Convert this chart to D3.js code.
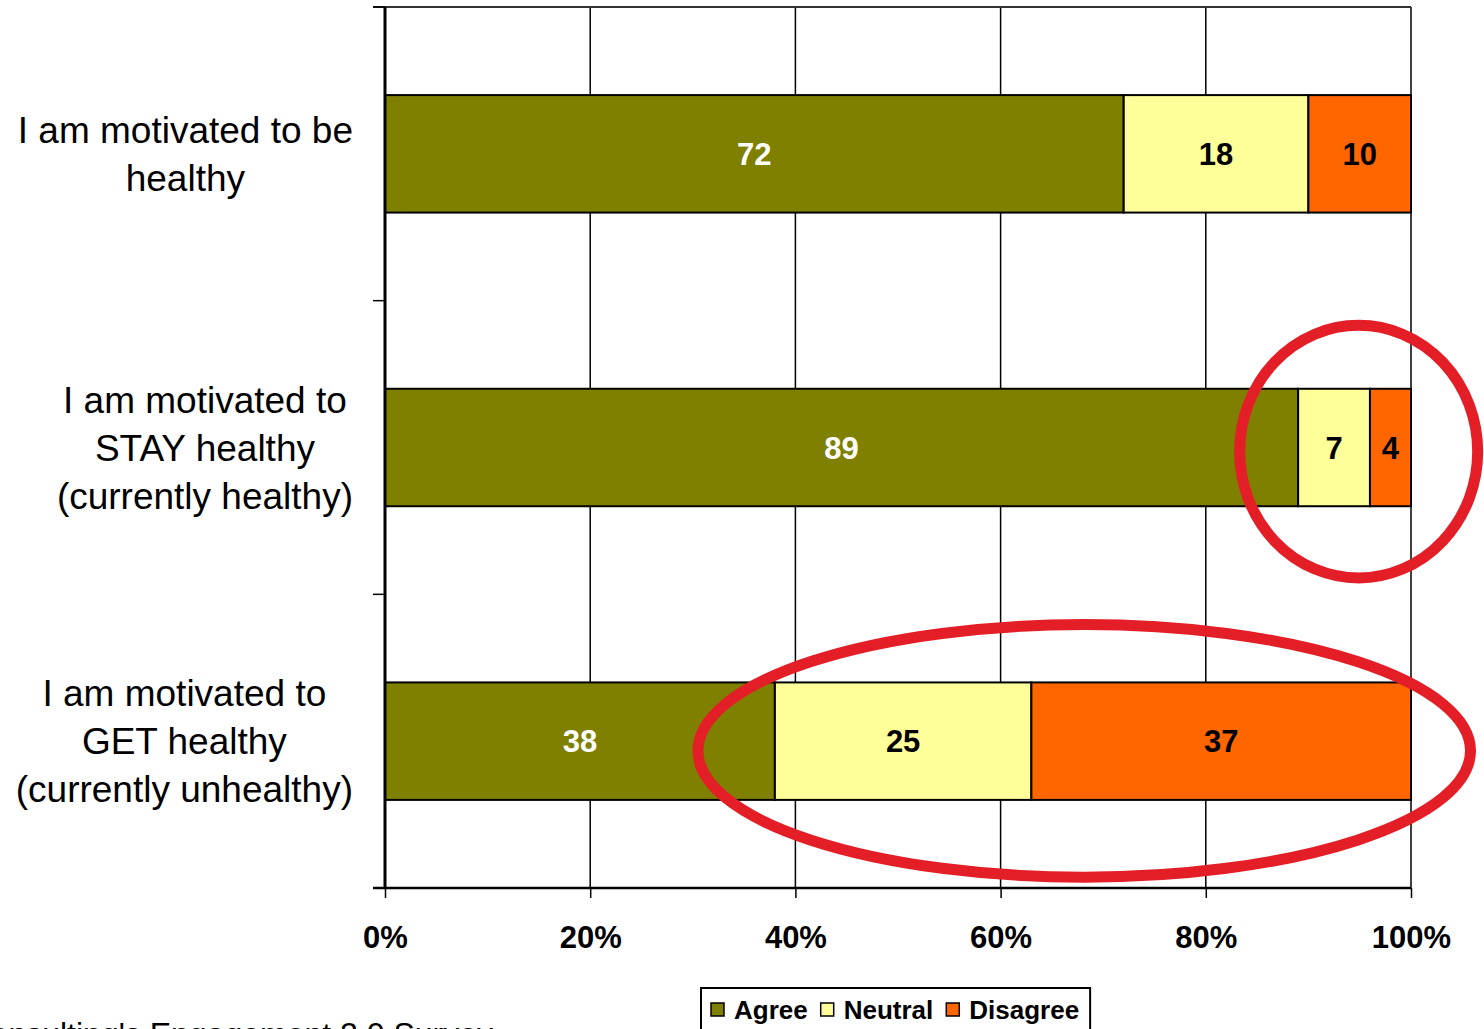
<!DOCTYPE html>
<html><head><meta charset="utf-8">
<script src="https://cdn.jsdelivr.net/npm/d3@7"></script>
<style>body{margin:0;background:#fff;overflow:hidden}svg{display:block}text{font-family:"Liberation Sans",Arial,sans-serif}</style>
</head><body>
<script>
const categories = [
  ["I am motivated to be", "healthy"],
  ["I am motivated to", "STAY healthy", "(currently healthy)"],
  ["I am motivated to", "GET healthy", "(currently unhealthy)"]
];
const seriesNames = ["Agree", "Neutral", "Disagree"];
const agree = [72, 89, 38];
const neutral = [18, 7, 25];
const disagree = [10, 4, 37];
const tickValues = [0, 20, 40, 60, 80, 100];
const tickLabels = ["0%", "20%", "40%", "60%", "80%", "100%"];
const footnote = "Consulting's Engagement 2.0 Survey";
// annotation ellipses in data units: category index, x-extent in %, vertical offset & radius as fraction of band
const annotations = [
  {cat: 1, x0: 83.3, x1: 106.5, dy: 0.014, ry: 0.43},
  {cat: 2, x0: 30.5, x1: 105.8, dy: 0.033, ry: 0.43}
];

const W = 1484, H = 1029;
const colors = {Agree: "#808000", Neutral: "#ffff99", Disagree: "#ff6600"};
const textColors = {Agree: "#ffffff", Neutral: "#000000", Disagree: "#000000"};
const m = {left: 385, right: 1411, top: 7, bottom: 888};

const svg = d3.select("body").append("svg").attr("width", W).attr("height", H);

const x = d3.scaleLinear().domain([0, 100]).range([m.left, m.right]);
const y = d3.scaleBand().domain(d3.range(categories.length)).range([m.top, m.bottom]).paddingInner(0.6).paddingOuter(0.3);
const band = d3.scaleBand().domain(d3.range(categories.length)).range([m.top, m.bottom]);

// gridlines
svg.append("g").selectAll("line").data(tickValues.slice(1)).join("line")
  .attr("x1", d => x(d)).attr("x2", d => x(d))
  .attr("y1", m.top).attr("y2", m.bottom)
  .attr("stroke", "#000").attr("stroke-width", 1.5);
// top border
svg.append("line").attr("x1", m.left - 12).attr("x2", m.right).attr("y1", m.top).attr("y2", m.top)
  .attr("stroke", "#333").attr("stroke-width", 2);

// stacked data
const rows = categories.map((c, i) => ({i, Agree: agree[i], Neutral: neutral[i], Disagree: disagree[i]}));
const stack = d3.stack().keys(seriesNames)(rows);

const g = svg.append("g");
stack.forEach(s => {
  g.selectAll(null).data(s).join("rect")
    .attr("x", d => x(d[0])).attr("width", d => x(d[1]) - x(d[0]))
    .attr("y", (d, i) => y(i)).attr("height", y.bandwidth())
    .attr("fill", colors[s.key]).attr("stroke", "#000").attr("stroke-width", 2);
  g.selectAll(null).data(s).join("text")
    .attr("x", d => (x(d[0]) + x(d[1])) / 2)
    .attr("y", (d, i) => y(i) + y.bandwidth() / 2)
    .attr("dy", "0.36em")
    .attr("text-anchor", "middle")
    .attr("font-weight", "bold").attr("font-size", 31)
    .attr("fill", textColors[s.key])
    .text(d => d[1] - d[0]);
});

// axes
const xAxis = svg.append("g").attr("transform", `translate(0,${m.bottom})`)
  .call(d3.axisBottom(x).tickValues(tickValues).tickFormat((d, i) => tickLabels[i]).tickSize(10).tickPadding(28));
xAxis.select(".domain").attr("stroke", "#000").attr("stroke-width", 2.5).attr("d", `M${m.left - 12},0H${m.right}`);
xAxis.selectAll(".tick line").attr("stroke", "#000").attr("stroke-width", 1.5);
xAxis.selectAll(".tick text").attr("font-size", 31).attr("font-weight", "bold").attr("fill", "#000")
  .attr("font-family", '"Liberation Sans",Arial,sans-serif');

const yAxis = svg.append("g").attr("transform", `translate(${m.left},0)`)
  .call(d3.axisLeft(band).tickSize(0).tickFormat(""));
yAxis.select(".domain").attr("stroke", "#000").attr("stroke-width", 3).attr("d", `M0,${m.top}V${m.bottom}`);
// boundary ticks
svg.append("g").selectAll("line").data(d3.range(categories.length + 1)).join("line")
  .attr("x1", m.left - 12).attr("x2", m.left)
  .attr("y1", d => d < categories.length ? band(d) : m.bottom)
  .attr("y2", d => d < categories.length ? band(d) : m.bottom)
  .attr("stroke", "#000").attr("stroke-width", 1.5);

// category labels
const labelRight = 353, lineH = 48, fsCat = 37;
categories.forEach((lines, i) => {
  const t = svg.append("text").attr("font-size", fsCat).attr("fill", "#000").attr("text-anchor", "middle");
  const cy = y(i) + y.bandwidth() / 2;
  const n = lines.length;
  lines.forEach((l, k) => {
    t.append("tspan").attr("y", cy + (k - (n - 1) / 2) * lineH).attr("dy", "0.36em").text(l);
  });
  let maxW = 0;
  t.selectAll("tspan").each(function() { maxW = Math.max(maxW, this.getComputedTextLength()); });
  t.selectAll("tspan").attr("x", labelRight - maxW / 2);
});

// annotation ellipses
svg.append("g").selectAll("ellipse").data(annotations).join("ellipse")
  .attr("cx", d => (x(d.x0) + x(d.x1)) / 2)
  .attr("rx", d => (x(d.x1) - x(d.x0)) / 2)
  .attr("cy", d => band(d.cat) + band.bandwidth() / 2 + d.dy * band.bandwidth())
  .attr("ry", d => d.ry * band.bandwidth())
  .attr("fill", "none").attr("stroke", "#e31e26").attr("stroke-width", 11);

// legend
const leg = svg.append("g");
const legBox = leg.append("rect").attr("fill", "#fff").attr("stroke", "#000").attr("stroke-width", 2);
let lx = 711;
const ly = 1010;
seriesNames.forEach(k => {
  leg.append("rect").attr("x", lx).attr("y", ly - 7).attr("width", 13).attr("height", 13)
    .attr("fill", colors[k]).attr("stroke", "#000").attr("stroke-width", 1.5);
  const t = leg.append("text").attr("x", lx + 23).attr("y", ly).attr("dy", "0.36em")
    .attr("font-size", 26).attr("font-weight", "bold").attr("fill", "#000").text(k);
  lx += 23 + t.node().getComputedTextLength() + 13;
});
legBox.attr("x", 701).attr("y", 988).attr("width", lx - 701 - 2).attr("height", 60);

// footnote (cut off at the page edge, as in the source image)
svg.append("text").attr("x", 493).attr("y", 1045).attr("text-anchor", "end")
  .attr("font-size", 32).attr("fill", "#000").text(footnote);
</script>
</body></html>
